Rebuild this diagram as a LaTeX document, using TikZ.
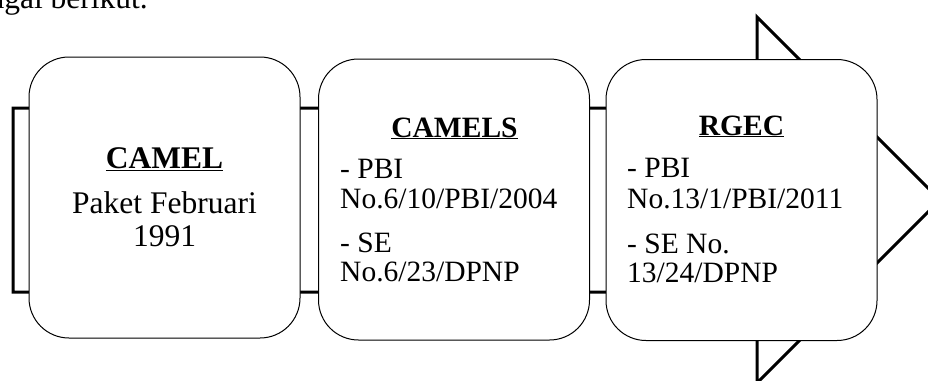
\documentclass[tikz,border=0pt]{standalone}
\usepackage{fontspec}
\setmainfont{Liberation Serif}
\begin{document}
\begin{tikzpicture}[x=1pt,y=-1pt,
  box/.style={draw, fill=white, rounded corners=40pt, line width=1pt,
    minimum width=271pt, minimum height=281pt, inner sep=0pt},
  txt/.style={font=\fontsize{29.5}{32}\selectfont, inner sep=0pt},
  bigtxt/.style={font=\fontsize{31.5}{34}\selectfont, inner sep=0pt},
  arrowbg/.style={draw, line width=3pt, fill=white, line join=miter}]
\useasboundingbox (0,0) rectangle (928,380);
\clip (0,0) rectangle (928,380);
\node[bigtxt, anchor=base east] (intro) at (148,9) {sebagai berikut.};
\path[arrowbg] (13,108) -- (757,108) -- (757,17) -- (940,200) -- (757,383) -- (757,292) -- (13,292) -- cycle;
\node[box] (b1) at (164.5,197.5) {};
\node[box] (b2) at (454,199.5) {};
\node[box] (b3) at (741.5,200) {};
% box 1
\node[bigtxt, anchor=base] (t1a) at (164.5,168) {\underline{\textbf{CAMEL}}};
\node[bigtxt, anchor=base] (t1b) at (164.5,213) {Paket Februari};
\node[bigtxt, anchor=base] (t1c) at (164.5,246) {1991};
% box 2
\node[txt, anchor=base] (t2a) at (454.5,137) {\underline{\textbf{CAMELS}}};
\node[txt, anchor=base west] (t2b) at (340,178) {- PBI};
\node[txt, anchor=base west] (t2c) at (340,208) {No.6/10/PBI/2004};
\node[txt, anchor=base west] (t2d) at (340,252) {- SE};
\node[txt, anchor=base west] (t2e) at (340,281) {No.6/23/DPNP};
% box 3
\node[txt, anchor=base] (t3a) at (741.5,135) {\underline{\textbf{RGEC}}};
\node[txt, anchor=base west] (t3b) at (627,177) {- PBI};
\node[txt, anchor=base west] (t3c) at (627,208) {No.13/1/PBI/2011};
\node[txt, anchor=base west] (t3d) at (627,253) {- SE No.};
\node[txt, anchor=base west] (t3e) at (627,282) {13/24/DPNP};
\end{tikzpicture}
\end{document}
